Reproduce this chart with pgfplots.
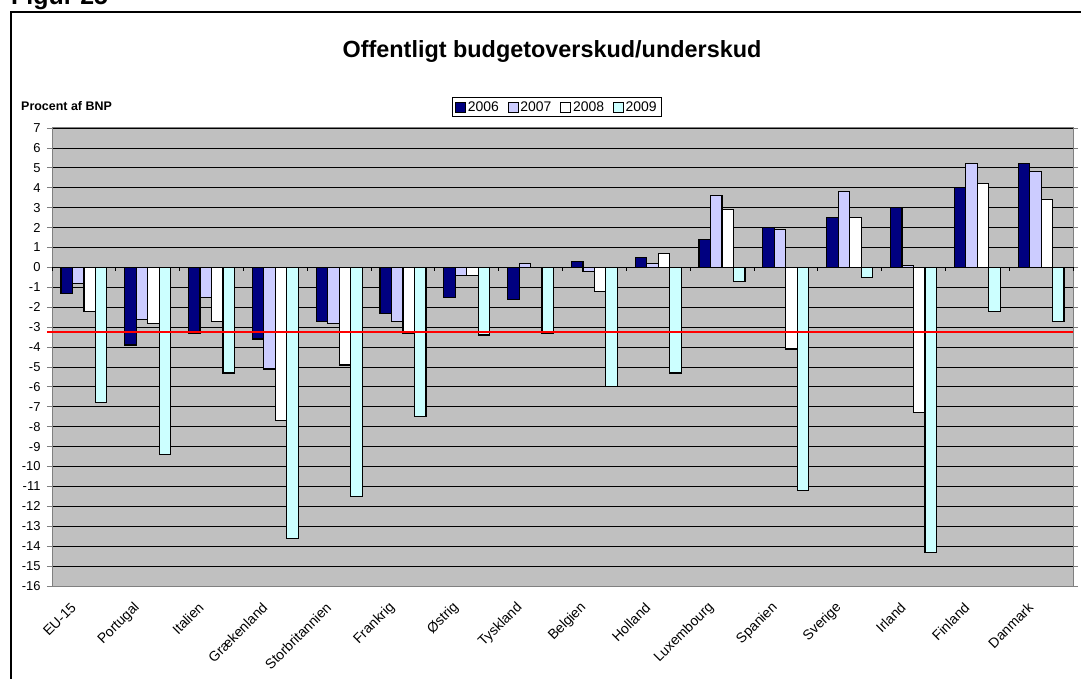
\documentclass[border=0pt]{standalone}
\usepackage{pgfplots}
\pgfplotsset{compat=1.18}
\usepackage{fontspec}
\setmainfont{Liberation Sans}
\definecolor{navyb}{HTML}{000080}
\definecolor{lavb}{HTML}{CCCCFF}
\definecolor{cyanb}{HTML}{CCFFFF}
\definecolor{plotbg}{HTML}{C0C0C0}
\definecolor{axgray}{HTML}{808080}
\pgfplotsset{legimg/.style={legend image code/.code={\draw[##1,draw=black,line width=0.6bp] (0bp,-5bp) rectangle (10bp,5bp);}}}
\begin{document}
\begin{tikzpicture}
\useasboundingbox (0,0) rectangle (1081bp,679bp);
\draw[line width=2bp] (11bp,-5bp) -- (11bp,667bp) -- (1090bp,667bp);
\node[anchor=base west, inner sep=0pt, font=\bfseries\fontsize{25}{28}\selectfont] at (11bp,674bp) {Figur 25};
\node[font=\bfseries\fontsize{23.5}{27}\selectfont] at (552bp,627bp) {Offentligt budgetoverskud/underskud};
\node[anchor=west, inner sep=0pt, font=\bfseries\fontsize{12.5}{14}\selectfont] at (21bp,573bp) {Procent af BNP};
\begin{axis}[
  at={(52bp,93bp)}, anchor=south west,
  scale only axis, width=1021bp, height=458bp,
  xmin=-0.5, xmax=15.5, ymin=-16, ymax=7,
  ytick={-16,...,7},
  xtick={0,...,15},
  xticklabels={EU-15,Portugal,Italien,Grækenland,Storbritannien,Frankrig,Østrig,Tyskland,Belgien,Holland,Luxembourg,Spanien,Sverige,Irland,Finland,Danmark},
  xtick style={draw=none},
  ytick style={draw=axgray, line width=0.8bp},
  tick align=outside, major tick length=5bp,
  /pgf/number format/assume math mode=true,
  yticklabel style={font=\fontsize{13}{15}\selectfont, xshift=-3bp},
  xticklabel style={font=\fontsize{14}{16}\selectfont, xshift=-8bp, yshift=-12bp, rotate=45, anchor=east},
  axis line style={draw=axgray, line width=1bp},
  axis background/.style={fill=plotbg},
  ymajorgrids, grid style={draw=black, line width=0.8bp},
  bar width=0.18,
  clip=false,
  legend columns=4,
  legend style={at={(0.4946,1)}, anchor=south, yshift=11.5bp, draw=black, line width=0.8bp,
    font=\fontsize{14}{16}\selectfont, inner xsep=3bp, inner ysep=1.5bp,
    /tikz/every even column/.append style={column sep=7bp}},
  legend cell align=left,
]
\addplot[ybar, bar width=0.18, bar shift=-0.27, fill=navyb, draw=black, line width=1.2bp, legimg] coordinates {
(0,-1.3) (1,-3.9) (2,-3.3) (3,-3.6) (4,-2.7) (5,-2.3) (6,-1.5) (7,-1.6) (8,0.3) (9,0.5) (10,1.4) (11,2.0) (12,2.5) (13,3.0) (14,4.0) (15,5.2)};
\addplot[ybar, bar width=0.18, bar shift=-0.09, fill=lavb, draw=black, line width=1.2bp, legimg] coordinates {
(0,-0.8) (1,-2.6) (2,-1.5) (3,-5.1) (4,-2.8) (5,-2.7) (6,-0.4) (7,0.2) (8,-0.2) (9,0.2) (10,3.6) (11,1.9) (12,3.8) (13,0.1) (14,5.2) (15,4.8)};
\addplot[ybar, bar width=0.18, bar shift=0.09, fill=white, draw=black, line width=1.2bp, legimg] coordinates {
(0,-2.2) (1,-2.8) (2,-2.7) (3,-7.7) (4,-4.9) (5,-3.3) (6,-0.4) (7,0.0) (8,-1.2) (9,0.7) (10,2.9) (11,-4.1) (12,2.5) (13,-7.3) (14,4.2) (15,3.4)};
\addplot[ybar, bar width=0.18, bar shift=0.27, fill=cyanb, draw=black, line width=1.2bp, legimg] coordinates {
(0,-6.8) (1,-9.4) (2,-5.3) (3,-13.6) (4,-11.5) (5,-7.5) (6,-3.4) (7,-3.3) (8,-6.0) (9,-5.3) (10,-0.7) (11,-11.2) (12,-0.5) (13,-14.3) (14,-2.2) (15,-2.7)};
\legend{2006,2007,2008,2009}
\addplot[red, line width=2bp, forget plot] coordinates {(-0.58,-3.23) (15.5,-3.23)};
\pgfplotsinvokeforeach{-0.5,0.5,...,15.5}{\draw[black, line width=0.8bp] (axis cs:#1,0) -- ([yshift=-4bp]axis cs:#1,0);}
\draw[black, line width=1bp] (axis cs:-0.5,0) -- (axis cs:15.5,0);
\end{axis}
\end{tikzpicture}
\end{document}
